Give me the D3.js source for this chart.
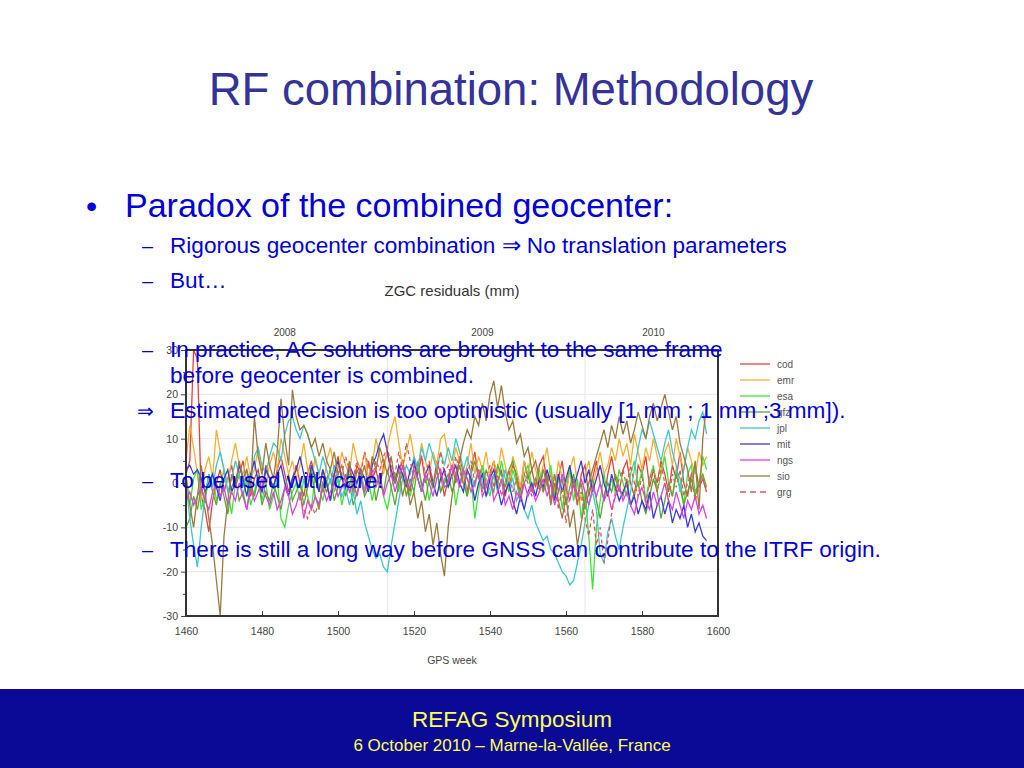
<!DOCTYPE html>
<html>
<head>
<meta charset="utf-8">
<script src="https://cdn.jsdelivr.net/npm/d3@7"></script>
<style>
  body { margin: 0; background: #ffffff; }
  svg text { font-family: "Liberation Sans", Arial, Helvetica, sans-serif; }
</style>
</head>
<body>
<div id="slide"></div>
<script>
// chart data: weekly ZGC residuals (mm), GPS weeks 1460..1597
var firstWeek = 1460;
var acNames = ["cod", "emr", "esa", "gfz", "jpl", "mit", "ngs", "sio", "grg"];
var acColors = ["#e8413c", "#f5b030", "#3ce63c", "#5aa832", "#3cc8d0", "#3a3ad8", "#e040e0", "#9a7a40", "#e05858"];
var xTicks = [1460, 1480, 1500, 1520, 1540, 1560, 1580, 1600];
var yTicks = [-30, -20, -10, 0, 10, 20, 30];
var yearLabels = ["2008", "2009", "2010"];
var yearLabelWeeks = [1486, 1538, 1583];
var yearStartWeeks = [1513, 1565];

var cod = [2, 5, 30, 28, -3, -6, -11, -4, 0, 3, -2, 1, 4, -1, 2, 5, 0, -3, 1, 3, -2, 4, 1,
  -1, 3, 6, 2, -2, 1, 4, 0, -3, 2, 5, 1, -2, 3, 0, -4, 2, 6, 1, -1, 3, 0, 4,
  2, -2, 5, 1, 3, -1, 4, 7, 2, 0, 3, 5, 1, -2, 4, 2, 6, 0, 3, -1, 5, 2, -3,
  1, 4, 0, 6, 2, -2, 3, 7, 1, 4, -1, 2, 5, 0, 3, -3, 1, 4, 2, -2, 5, 1, 3,
  -1, 4, 6, 0, 2, -4, 1, 5, -2, 3, 0, -5, 2, 4, -3, 1, 5, 0, -4, 2, 6, 1, -2,
  3, 5, 0, -3, 4, 2, 6, -1, 3, 0, 5, 2, -2, 4, 1, 7, 0, -3, 2, 4, -1, 1, -2];
var emr = [5, 13, 8, 2, -4, 3, 6, 1, 12, 7, 3, 0, 5, 9, 4, 2, 6, 1, 3, 8, 2, -1, 4,
  7, 3, 10, 6, 2, 5, 1, 4, 9, 3, 0, 6, 2, -2, 5, 8, 3, 1, 7, 4, 2, 9, 5,
  3, 7, 1, 4, 10, 6, 2, 8, 12, 15, 9, 4, 7, 11, 6, 3, 9, 5, 2, 7, 4, 10, 11,
  6, 3, 8, 5, 1, 4, 9, 2, 6, 3, 7, 1, 5, 2, 8, 4, 0, 6, 3, -1, 5, 2, 7,
  3, 0, 4, 8, 2, -2, 5, 1, -3, 3, 6, 0, -4, 2, 5, -1, 3, 7, 2, 4, 8, 5, 10,
  6, 9, 4, 11, 7, 3, 8, 5, 10, 6, 2, 7, 9, 4, 10, 6, 3, 8, 5, 2, 7, 4, 6];
var esa = [-2, -5, 1, 3, -6, -3, 0, 2, -4, -1, 3, -2, -7, 0, 2, -3, 1, -5, -2, 2, -4, 0, -6,
  -3, 1, -8, -10, -5, -2, 0, -4, 1, -3, -6, 2, -1, -4, 0, 3, -2, 1, -5, -1, 2, -3, 0,
  3, -2, 1, -4, 0, 2, -3, -6, -1, 2, -2, 4, 0, -3, 1, 5, -1, 2, -4, 0, 3, -2, 1,
  -1, 2, -5, 0, 3, -3, 1, -8, -2, 4, 0, -3, 2, -1, 5, 1, -2, 3, 0, -4, 2, 4, -1,
  1, 3, -2, 0, 4, -3, 2, -6, 0, 3, -4, 1, -8, -2, -12, -24, -10, -4, 2, -3, 1, -2, 3,
  0, -3, 2, 5, -1, 3, -4, 1, 4, -2, 2, 6, 0, -3, 3, 1, -5, 2, 4, -2, 0, 6, 3];
var gfz = [-10, -8, -3, -6, -1, -4, 2, -2, -5, 0, -3, -7, -1, 1, -4, -2, -6, 0, -3, 1, -5, -2, -4,
  0, -3, -6, -1, 2, -4, -2, 0, -5, -1, 3, -3, -6, 0, -2, 1, -4, -1, 2, -3, 0, -5, -2,
  1, -3, -1, 2, -4, 0, -2, 3, -1, -5, 0, 2, -3, 1, -2, 4, 0, -4, 1, -1, 3, -2, 0,
  2, -2, 1, 4, 0, -3, 2, 5, 1, -1, 3, 0, -2, 4, 2, -1, 3, 5, 1, -3, 0, 2, -2,
  1, -1, 3, 0, -4, 2, -2, 1, -5, -1, 2, -3, 0, -6, -2, 1, -4, -8, -3, 0, -2, 2, -1,
  -3, 1, -5, -2, 0, -4, -7, -3, 1, -2, -8, -4, 0, -3, 2, -1, -5, -2, 1, -3, 0, 2, -1];
var jpl = [0, -8, -14, -19, -10, -3, 2, -1, 4, 7, 3, -2, 1, 5, 2, -1, 3, 0, 6, 8, 4, 2, 6,
  9, 8, 5, 11, 14, 15, 12, 10, 13, 11, 8, 5, 2, 6, 3, 0, 4, 1, -3, -1, -5, -2, -7,
  -4, -9, -12, -15, -17, -16, -19, -20, -14, -9, -4, 1, 4, 2, 6, 3, 8, 5, 9, 6, 3, 7, 4,
  8, 5, 10, 7, 3, 6, 2, -1, 3, 0, -3, -1, 2, -2, 0, 3, -1, 1, -4, -2, -6, -8, -5,
  -9, -11, -13, -12, -15, -16, -18, -20, -21, -23, -22, -18, -14, -9, -5, -2, -6, -16, -18, -11, -8, -12, -15,
  -10, -6, -2, 3, 8, 12, 10, 14, 11, 8, 5, 9, 12, 7, 4, -2, 3, 8, 12, 10, 14, 16, 11];
var mit = [3, 4, 2, 3, 1, -2, 0, 2, -1, -4, 1, 3, -2, 0, 4, 1, -3, 2, 5, 0, -2, 3, 1,
  -1, 2, 4, 0, -3, 1, 3, 6, 2, -1, 4, 1, -2, 3, 0, -4, 2, 5, 1, -1, 4, 2, 0,
  3, 1, -2, 4, 6, 9, 11, 7, 3, 0, 4, 2, -1, 3, 5, 1, -2, 2, 4, 0, -3, 1, 3,
  -1, 2, 4, 0, -2, 3, 1, -4, 0, 2, -3, 1, 3, -1, -5, -2, 0, -4, -7, -3, -6, -2, 0,
  -3, 1, -1, 3, 0, -4, 2, -2, 1, 4, -1, 2, 5, 0, 3, -2, 1, 4, 0, -3, 2, -1, -4,
  -2, 0, -5, -3, -7, -4, -6, -2, -8, -5, -3, -7, -4, -9, -6, -8, -5, -10, -7, -11, -9, -12, -13];
var ngs = [-4, -2, -5, -3, -1, -4, -6, -2, 0, -3, -1, -5, -2, -4, 0, -3, -6, -1, -4, -2, 1, -3, -5,
  -2, -6, -4, -1, -3, -7, -5, -2, -8, -4, -6, -3, -5, -1, -4, -2, 0, -3, -1, 2, -2, 0, -3,
  1, -2, 0, 3, -1, 2, -3, 0, 2, -2, 1, 4, 0, -1, 3, 1, -2, 2, 0, -3, 1, 3, -1,
  0, 4, 2, -1, 3, 1, -2, 0, 3, -3, -1, 2, -4, -2, 1, -5, -3, -6, -2, -4, 0, -3, -1,
  -4, -2, 1, -3, 0, -5, -2, 2, -1, -4, 0, -3, 1, -2, -5, -1, -3, 0, -4, -2, -6, -3, -1,
  -4, -2, -5, -7, -3, -1, -4, -6, -2, -5, -3, 0, -4, -6, -2, -5, -8, -4, -6, -3, -7, -5, -8];
var sio = [2, -5, -10, -3, 4, -2, -8, -14, -22, -30, -12, -4, 2, -1, 5, 1, 3, -2, 15, 6, 2, 9, 4,
  1, 7, 19, 10, 4, 21, 15, 12, 13, 11, 8, 10, 6, 9, 5, 3, 7, 2, 4, 0, 5, -2, 3,
  1, 4, -1, 6, 3, 8, 5, 2, 6, 0, 3, -3, 1, -5, -2, -8, -4, -11, -7, -14, -9, -16, -21,
  -10, -3, 2, 5, 9, 12, 10, 15, 13, 18, 14, 20, 23, 17, 22, 16, 12, 14, 9, 11, 6, 8, 3,
  5, 1, -2, 2, -5, 0, -4, -8, -3, -10, -6, -14, -9, -4, 0, 3, 6, 9, 12, 8, 13, 10, 15,
  11, 14, 9, 12, 16, 13, 10, 15, 18, 14, 17, 20, 16, 12, 15, 9, 6, 3, -2, 5, -6, 10, 18];
var grg = [null, null, null, null, null, null, null, null, null, null, null, null, null, null, null, null, null, null, null, null, null, null, null,
  null, null, null, null, null, null, null, -3, -6, -8, -5, -7, -4, -2, 1, 3, 0, 4, 2, 6, 3, 1, 5,
  2, 7, 4, 1, 5, 3, 6, 8, 4, 2, 7, 3, 9, 5, 1, 4, 6, 2, 5, 0, 3, 7, 2,
  4, 1, 6, 3, -1, 2, 5, 0, 3, -2, 1, 4, -1, 2, -3, 0, 3, -2, 1, -4, 2, 0, -3,
  1, -2, 3, 0, -4, 2, -6, -1, -9, -3, 1, -5, -2, -8, -12, -6, -14, -10, -18, -13, -7, -2, 1,
  3, -1, 4, 0, -3, 2, -5, 1, 3, -2, 4, 0, -4, 2, -1, 3, -3, 0, 2, -4, -1, 1, -2];
var acValues = [cod, emr, esa, gfz, jpl, mit, ngs, sio, grg];

// slide texts
var slideTitle = "RF combination: Methodology";
var mainBullet = "Paradox of the combined geocenter:";
var footerTitle = "REFAG Symposium";
var footerDate = "6 October 2010 \u2013 Marne-la-Vall\u00e9e, France";

var W = 1024, H = 768;
var svg = d3.select("#slide")
  .append("svg")
    .attr("width", W)
    .attr("height", H)

svg.append("rect")
    .attr("width", W).attr("height", H)
    .style("fill", "#ffffff")

// ---------- the embedded chart ----------
var plot = {left: 186, right: 718, top: 350, bottom: 616};

var x = d3.scaleLinear()
  .domain([1460, 1600])
  .range([plot.left, plot.right])
var y = d3.scaleLinear()
  .domain([-30, 30])
  .range([plot.bottom, plot.top])

var chart = svg.append("g")

// light grid
chart.append("g")
  .selectAll("line")
  .data([-20, -10, 10, 20])
  .enter()
  .append("line")
    .attr("x1", plot.left).attr("x2", plot.right)
    .attr("y1", function (d) { return y(d) })
    .attr("y2", function (d) { return y(d) })
    .style("stroke", "#e6e6e6")
chart.append("g")
  .selectAll("line")
  .data(yearStartWeeks)
  .enter()
  .append("line")
    .attr("x1", function (d) { return x(d) })
    .attr("x2", function (d) { return x(d) })
    .attr("y1", plot.top).attr("y2", plot.bottom)
    .style("stroke", "#e6e6e6")

// series
var weeks = d3.range(acValues[0].length).map(function (i) { return firstWeek + i })
var line = d3.line()
  .defined(function (d) { return d != null })
  .x(function (d, i) { return x(weeks[i]) })
  .y(function (d) { return y(d) })

chart.append("g")
  .selectAll("path")
  .data(acValues)
  .enter()
  .append("path")
    .attr("d", line)
    .style("fill", "none")
    .style("stroke", function (d, i) { return acColors[i] })
    .style("stroke-width", 1.3)
    .style("stroke-dasharray", function (d, i) { return acNames[i] == "grg" ? "4,3" : null })

// axes (plain hyphen minus, no thousands comma)
var plain = function (d) { return String(d) }
chart.append("g")
  .attr("transform", "translate(" + plot.left + ",0)")
  .call(d3.axisLeft(y).tickValues(yTicks).tickSize(5).tickPadding(3).tickFormat(plain))
chart.append("g")
  .attr("transform", "translate(" + plot.left + ",0)")
  .call(d3.axisLeft(y).tickValues([-25, -15, -5, 5, 15, 25]).tickSize(3).tickFormat(""))
chart.append("g")
  .attr("transform", "translate(0," + plot.bottom + ")")
  .call(d3.axisBottom(x).tickValues(xTicks).tickSize(-5).tickPadding(12).tickFormat(plain))
chart.selectAll(".domain").remove()
chart.selectAll(".tick line").attr("stroke", "#444")
chart.selectAll(".tick text")
  .style("fill", "#444")
  .style("font-size", "10.5px")
  .style("font-family", "Liberation Sans, Arial, sans-serif")

// frame
chart.append("rect")
    .attr("x", plot.left).attr("y", plot.top)
    .attr("width", plot.right - plot.left)
    .attr("height", plot.bottom - plot.top)
    .style("fill", "none")
    .style("stroke", "#333")
    .style("stroke-width", 2)

// year labels on top
chart.append("g")
  .selectAll("text")
  .data(yearLabels)
  .enter()
  .append("text")
    .attr("x", function (d, i) { return x(yearLabelWeeks[i]) })
    .attr("y", plot.top - 14)
    .attr("text-anchor", "middle")
    .text(function (d) { return d })
    .style("fill", "#444")
    .style("font-size", "10px")

chart.append("text")
    .attr("x", 452).attr("y", 296)
    .attr("text-anchor", "middle")
    .text("ZGC residuals (mm)")
    .style("fill", "#333")
    .style("font-size", "15px")

chart.append("text")
    .attr("x", 452).attr("y", 664)
    .attr("text-anchor", "middle")
    .text("GPS week")
    .style("fill", "#444")
    .style("font-size", "10.5px")

// legend
var legend = chart.append("g")
  .selectAll("g")
  .data(acNames)
  .enter()
  .append("g")
    .attr("transform", function (d, i) { return "translate(740," + (364 + i * 16) + ")" })
legend.append("line")
    .attr("x1", 0).attr("x2", 30)
    .style("stroke", function (d, i) { return acColors[i] })
    .style("stroke-width", 1.3)
    .style("stroke-dasharray", function (d) { return d == "grg" ? "6,4" : null })
legend.append("text")
    .attr("x", 37).attr("y", 3.5)
    .text(function (d) { return d })
    .style("fill", "#555")
    .style("font-size", "10px")

// ---------- slide text ----------
svg.append("text")
    .attr("x", 511).attr("y", 105)
    .attr("text-anchor", "middle")
    .text(slideTitle)
    .style("fill", "#333399")
    .style("font-size", "45.5px")

var blue = "#0000dd";
svg.append("text")
    .attr("x", 86).attr("y", 217)
    .text("\u2022")
    .style("fill", blue)
    .style("font-size", "32px")
svg.append("text")
    .attr("x", 125).attr("y", 217)
    .text(mainBullet)
    .style("fill", blue)
    .style("font-size", "34px")

var subLines = [
  {mark: "\u2013", text: "Rigorous geocenter combination \u21d2 No translation parameters", y: 253},
  {mark: "\u2013", text: "But\u2026", y: 288},
  {mark: "\u2013", text: "In practice, AC solutions are brought to the same frame", y: 357},
  {mark: "", text: "before geocenter is combined.", y: 383},
  {mark: "\u21d2", text: "Estimated precision is too optimistic (usually [1 mm ; 1 mm ;3 mm]).", y: 418},
  {mark: "\u2013", text: "To be used with care!", y: 488},
  {mark: "\u2013", text: "There is still a long way before GNSS can contribute to the ITRF origin.", y: 557}
];
var sub = svg.append("g")
  .selectAll("g")
  .data(subLines)
  .enter()
  .append("g")
sub.append("text")
    .attr("x", function (d) { return d.mark == "\u21d2" ? 137 : 142 })
    .attr("y", function (d) { return d.y })
    .text(function (d) { return d.mark })
    .style("fill", blue)
    .style("font-size", "20px")
sub.append("text")
    .attr("x", 170)
    .attr("y", function (d) { return d.y })
    .text(function (d) { return d.text })
    .style("fill", blue)
    .style("font-size", "22.6px")

// footer band
svg.append("rect")
    .attr("x", 0).attr("y", 689)
    .attr("width", W).attr("height", H - 689)
    .style("fill", "#0a0a96")
svg.append("text")
    .attr("x", 512).attr("y", 727)
    .attr("text-anchor", "middle")
    .text(footerTitle)
    .style("fill", "#ffff55")
    .style("font-size", "22.5px")
svg.append("text")
    .attr("x", 512).attr("y", 751)
    .attr("text-anchor", "middle")
    .text(footerDate)
    .style("fill", "#ffff55")
    .style("font-size", "17px")
</script>
</body>
</html>
